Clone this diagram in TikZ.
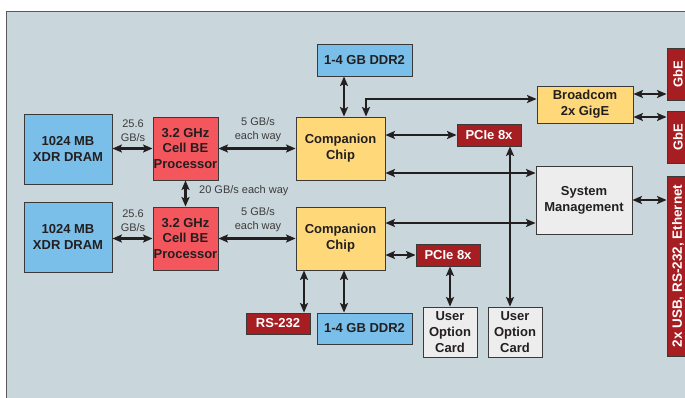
\documentclass[tikz,border=0pt]{standalone}
\usepackage{fontspec}
\setmainfont{Liberation Sans}
\usetikzlibrary{arrows.meta}
\definecolor{panel}{HTML}{C9D6DC}
\definecolor{memblue}{HTML}{79BFEA}
\definecolor{cellred}{HTML}{F4565E}
\definecolor{chipyel}{HTML}{FFD87A}
\definecolor{portred}{HTML}{A71E22}
\definecolor{mgmtgray}{HTML}{EDEDED}
\definecolor{edge}{HTML}{3A3A3A}
\definecolor{ink}{HTML}{231F20}
\definecolor{note}{HTML}{3C3C3C}
\definecolor{frame}{HTML}{5A5A5A}
\begin{document}
\begin{tikzpicture}[x=1pt,y=-1pt,
 box/.style={draw=edge, line width=0.9pt, inner sep=0pt, align=center, text=ink, font=\fontsize{13}{15.8}\selectfont\bfseries},
 mem/.style={box, fill=memblue},
 cpu/.style={box, fill=cellred},
 chip/.style={box, fill=chipyel},
 port/.style={box, fill=portred, text=white},
 grey/.style={box, fill=mgmtgray},
 arr/.style={line width=2.3pt, draw=ink, {Stealth[length=9.5pt,width=8pt,inset=2pt]}-{Stealth[length=9.5pt,width=8pt,inset=2pt]}},
 lbl/.style={font=\fontsize{11}{14}\selectfont, text=note, align=center, inner sep=0pt},
 ]
\useasboundingbox (0,0) rectangle (685,397);
\clip (0,0) rectangle (685,397);
\fill[white] (0,0) rectangle (685,397);
\draw[fill=panel, draw=frame, line width=1pt] (6,11) rectangle (720,430);

% memory and processors
\node[mem, minimum width=88, minimum height=70] (dram1) at (68,149) {1024 MB\\XDR DRAM};
\node[mem, minimum width=88, minimum height=70] (dram2) at (68,237) {1024 MB\\XDR DRAM};
\node[cpu, minimum width=65, minimum height=63] (cell1) at (185.5,148.5) {3.2 GHz\\Cell BE\\Processor};
\node[cpu, minimum width=65, minimum height=63] (cell2) at (185.5,238.5) {3.2 GHz\\Cell BE\\Processor};
\node[chip, minimum width=89, minimum height=63] (comp1) at (340.5,148.5) {Companion\\Chip};
\node[chip, minimum width=89, minimum height=63] (comp2) at (340.5,238.5) {Companion\\Chip};
\node[mem, minimum width=95, minimum height=32] (ddr1) at (364.5,60) {1-4 GB DDR2};
\node[mem, minimum width=95, minimum height=31] (ddr2) at (364.5,328.5) {1-4 GB DDR2};
\node[port, minimum width=64, minimum height=22] (pcie1) at (489,135) {PCIe 8x};
\node[port, minimum width=64, minimum height=22] (pcie2) at (448,255) {PCIe 8x};
\node[port, minimum width=64, minimum height=21] (rs) at (278,323.5) {RS-232};
\node[grey, minimum width=54, minimum height=50] (card1) at (450,332) {User\\Option\\Card};
\node[grey, minimum width=54, minimum height=50] (card2) at (515,332) {User\\Option\\Card};
\node[chip, minimum width=96, minimum height=37] (bcm) at (585,104.5) {Broadcom\\2x GigE};
\node[grey, minimum width=96, minimum height=68] (sysm) at (584,200) {System\\Management};
\node[port, rotate=90, minimum width=52, minimum height=22] (gbe1) at (678,74) {GbE};
\node[port, rotate=90, minimum width=52, minimum height=22] (gbe2) at (678,137) {GbE};
\node[port, rotate=90, minimum width=180, minimum height=22, font=\fontsize{13.5}{16}\selectfont\bfseries] (usb) at (678,266) {2x USB, RS-232, Ethernet};

% labels
\node[lbl] (l1) at (133,131) {25.6\\GB/s};
\node[lbl] (l2) at (133,221) {25.6\\GB/s};
\node[lbl] (l3) at (258,130) {5 GB/s\\each way};
\node[lbl] (l4) at (258,220) {5 GB/s\\each way};
\node[lbl, anchor=west] (l5) at (199,191) {20 GB/s each way};

% helper coordinates
\coordinate (bc) at (366,99);
\coordinate (s1) at (0,173);
\coordinate (s2) at (0,223);
\coordinate (v1) at (510,0);
\coordinate (g1) at (0,94);
\coordinate (g2) at (0,117);
\coordinate (m1) at (344,0);
\coordinate (r1) at (304,0);

% connectors
\draw[arr] (dram1.east |- cell1.west) -- (cell1.west);
\draw[arr] (dram2.east |- cell2.west) -- (cell2.west);
\draw[arr] (cell1.south) -- (cell2.north);
\draw[arr] (cell1.east) -- (cell1.east -| comp1.west);
\draw[arr] (cell2.east) -- (cell2.east -| comp2.west);
\draw[arr] (ddr1.south -| m1) -- (comp1.north -| m1);
\draw[arr] (comp1.north -| bc) -- (bc) -- (bc -| bcm.west);
\draw[arr] (pcie1.west -| comp1.east) -- (pcie1.west);
\draw[arr] (comp1.east |- s1) -- (sysm.west |- s1);
\draw[arr] (comp2.east |- s2) -- (sysm.west |- s2);
\draw[arr] (pcie2.west -| comp2.east) -- (pcie2.west);
\draw[arr] (comp2.south -| r1) -- (rs.north -| r1);
\draw[arr] (comp2.south -| m1) -- (ddr2.north -| m1);
\draw[arr] (pcie2.south -| card1.north) -- (card1.north);
\draw[arr] (pcie1.south -| v1) -- (card2.north -| v1);
\draw[arr] (bcm.east |- g1) -- (gbe1.north |- g1);
\draw[arr] (bcm.east |- g2) -- (gbe2.north |- g2);
\draw[arr] (sysm.east) -- (sysm.east -| usb.north);
\end{tikzpicture}
\end{document}
